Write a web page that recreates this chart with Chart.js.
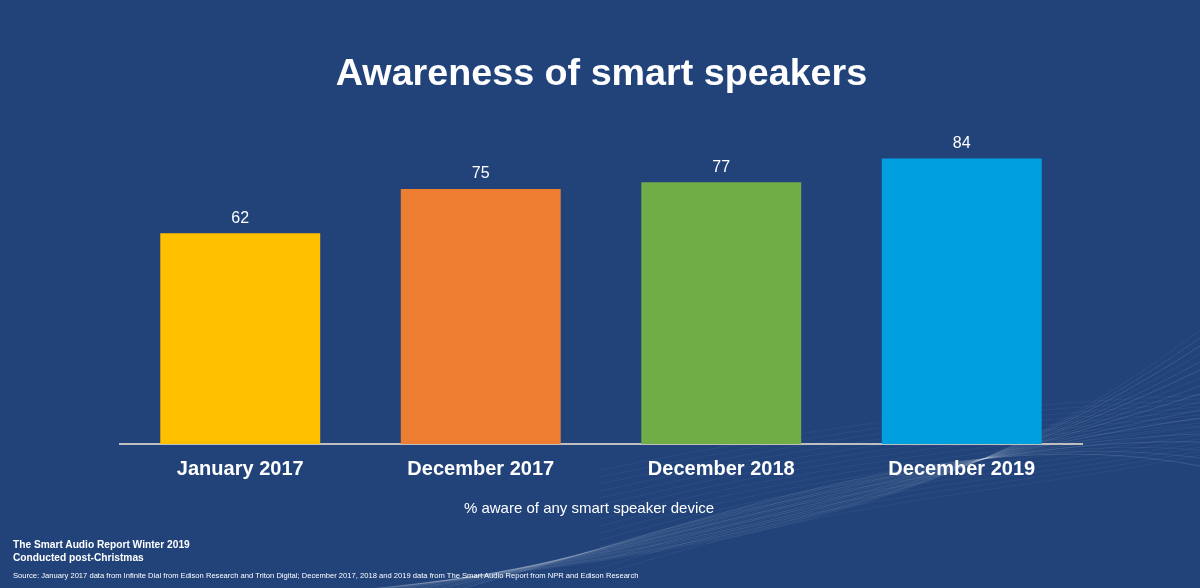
<!DOCTYPE html>
<html>
<head>
<meta charset="utf-8">
<script src="https://cdn.jsdelivr.net/npm/chart.js@4.4.1/dist/chart.umd.min.js"></script>
<style>
  html, body { margin: 0; padding: 0; }
  body { width: 1200px; height: 588px; background: #21437a; position: relative; overflow: hidden;
         font-family: "Liberation Sans", Arial, sans-serif; color: #fff; }
  #chart { position: absolute; left: 0; top: 0; }
  .title { position: absolute; left: 0; width: 1203px; top: 51px; text-align: center; font-size: 37.7px; font-weight: bold; }
  .sub { position: absolute; left: 0; width: 1178px; top: 499px; text-align: center; font-size: 15px; }
  .foot { position: absolute; left: 13px; top: 539px; font-size: 10.2px; font-weight: bold; line-height: 12.5px; }
  .src { position: absolute; left: 13px; top: 571px; font-size: 7.6px; }
</style>
</head>
<body>
<canvas id="chart" width="1200" height="588"></canvas>
<div class="title">Awareness of smart speakers</div>
<div class="sub">% aware of any smart speaker device</div>
<div class="foot">The Smart Audio Report Winter 2019<br>Conducted post-Christmas</div>
<div class="src">Source: January 2017 data from Infinite Dial from Edison Research and Triton Digital; December 2017, 2018 and 2019 data from The Smart Audio Report from NPR and Edison Research</div>
<script>
const categories = ['January 2017', 'December 2017', 'December 2018', 'December 2019'];
const awareness = [62, 75, 77, 84];
const barColors = ['#ffc000', '#ed7d31', '#70ad47', '#00a0e0'];

// faint wave lines in the lower right, just decoration
const waves = {
    id: 'waves',
    beforeDraw(chart) {
        const ctx = chart.ctx;
        ctx.save();
        ctx.lineWidth = 1;
        // sweeping lines rising to the right
        for (let i = 0; i < 18; i++) {
            ctx.strokeStyle = 'rgba(255,255,255,' + (0.06 + (i % 3) * 0.03) + ')';
            ctx.beginPath();
            ctx.moveTo(250 + i * 10, 600);
            ctx.bezierCurveTo(700, 560 - i * 2, 950, 520 - i * 6, 1200, 330 + i * 8);
            ctx.stroke();
        }
        // flatter lines across the lower right
        for (let i = 0; i < 16; i++) {
            ctx.strokeStyle = 'rgba(255,255,255,0.05)';
            ctx.beginPath();
            ctx.moveTo(600, 470 + i * 7);
            ctx.bezierCurveTo(850, 420 + i * 5, 1000, 405 + i * 6, 1200, 395 + i * 4);
            ctx.stroke();
        }
        ctx.restore();
    }
};

// value labels above the bars
const valueLabels = {
    id: 'valueLabels',
    afterDatasetsDraw(chart) {
        const ctx = chart.ctx;
        const meta = chart.getDatasetMeta(0);
        ctx.save();
        ctx.fillStyle = '#ffffff';
        ctx.font = '16px "Liberation Sans", Arial, sans-serif';
        ctx.textAlign = 'center';
        ctx.textBaseline = 'middle';
        meta.data.forEach((bar, i) => {
            ctx.fillText(awareness[i], bar.x, bar.y - 15);
        });
        ctx.restore();
    }
};

new Chart(document.getElementById('chart'), {
    type: 'bar',
    data: {
        labels: categories,
        datasets: [{
            data: awareness,
            backgroundColor: barColors,
            borderWidth: 0,
            barPercentage: 0.665,
            categoryPercentage: 1
        }]
    },
    options: {
        responsive: false,
        animation: false,
        layout: { padding: { left: 120, right: 118, top: 104, bottom: 0 } },
        plugins: { legend: { display: false }, tooltip: { enabled: false } },
        scales: {
            x: {
                grid: { display: false, drawTicks: false },
                border: { color: '#bfbfbf', width: 2 },
                ticks: {
                    color: '#ffffff',
                    padding: 13,
                    font: { family: '"Liberation Sans", Arial, sans-serif', size: 20, weight: 'bold' }
                },
                afterFit: s => { s.height = 144; }
            },
            y: {
                display: false,
                min: 0,
                max: 100
            }
        }
    },
    plugins: [waves, valueLabels]
});
</script>
</body>
</html>
